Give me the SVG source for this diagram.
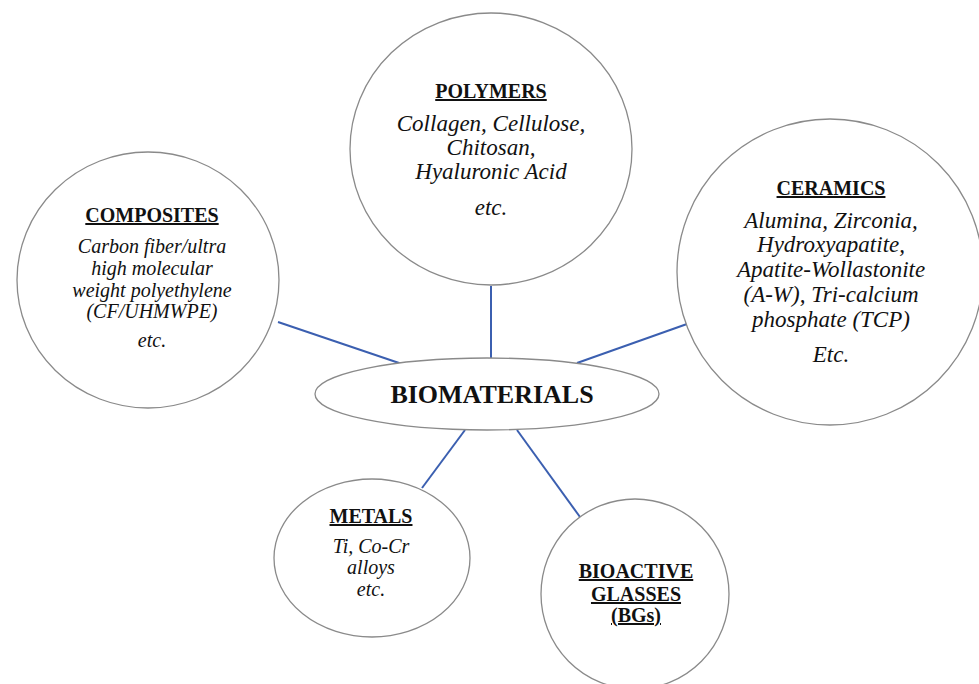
<svg xmlns="http://www.w3.org/2000/svg" width="979" height="684" viewBox="0 0 979 684">
<style>
.node{fill:#fff;stroke:#8a8a8a;stroke-width:1.3}
.conn{stroke:#3b5fb0;stroke-width:2;fill:none}
.h{font-family:"Liberation Serif",serif;font-weight:bold;font-size:20px;text-decoration:underline;text-anchor:middle;fill:#111}
.b{font-family:"Liberation Serif",serif;font-style:italic;font-size:23px;text-anchor:middle;fill:#111}
.s{font-family:"Liberation Serif",serif;font-style:italic;font-size:20px;text-anchor:middle;fill:#111}
.t{font-family:"Liberation Serif",serif;font-weight:bold;font-size:26px;text-anchor:middle;fill:#111}
</style>
<rect width="979" height="684" fill="#fff"/>
<g id="connectors">
<line class="conn" x1="491" y1="286" x2="491" y2="358"/>
<line class="conn" x1="278" y1="322" x2="402" y2="364"/>
<line class="conn" x1="577" y1="363" x2="687" y2="324"/>
<line class="conn" x1="465" y1="430" x2="422" y2="488"/>
<line class="conn" x1="517" y1="430" x2="580" y2="517"/>
</g>
<g id="polymers">
<ellipse class="node" cx="491" cy="149" rx="141" ry="136"/>
<text class="h" x="491" y="98">POLYMERS</text>
<text class="b" x="491" y="131">Collagen, Cellulose,</text>
<text class="b" x="491" y="155">Chitosan,</text>
<text class="b" x="491" y="179">Hyaluronic Acid</text>
<text class="b" x="491" y="215">etc.</text>
</g>
<g id="composites">
<ellipse class="node" cx="148" cy="280" rx="131" ry="128"/>
<text class="h" x="152" y="222">COMPOSITES</text>
<text class="s" x="152" y="253">Carbon fiber/ultra</text>
<text class="s" x="152" y="275">high molecular</text>
<text class="s" x="152" y="297">weight polyethylene</text>
<text class="s" x="152" y="318">(CF/UHMWPE)</text>
<text class="s" x="152" y="347">etc.</text>
</g>
<g id="ceramics">
<ellipse class="node" cx="830" cy="272" rx="153" ry="153"/>
<text class="h" x="831" y="195">CERAMICS</text>
<text class="b" x="831" y="228">Alumina, Zirconia,</text>
<text class="b" x="831" y="252">Hydroxyapatite,</text>
<text class="b" x="831" y="277">Apatite-Wollastonite</text>
<text class="b" x="831" y="302">(A-W), Tri-calcium</text>
<text class="b" x="831" y="327">phosphate (TCP)</text>
<text class="b" x="831" y="362">Etc.</text>
</g>
<g id="biomaterials">
<ellipse class="node" cx="487" cy="394" rx="172" ry="36"/>
<text class="t" x="492" y="403">BIOMATERIALS</text>
</g>
<g id="metals">
<ellipse class="node" cx="372" cy="558" rx="98" ry="79"/>
<text class="h" x="371" y="523">METALS</text>
<text class="s" x="371" y="553">Ti, Co-Cr</text>
<text class="s" x="371" y="574">alloys</text>
<text class="s" x="371" y="596">etc.</text>
</g>
<g id="bioactive-glasses">
<ellipse class="node" cx="635" cy="594" rx="94" ry="95"/>
<text class="h" x="636" y="578">BIOACTIVE</text>
<text class="h" x="636" y="601">GLASSES</text>
<text class="h" x="636" y="622">(BGs)</text>
</g>
</svg>
